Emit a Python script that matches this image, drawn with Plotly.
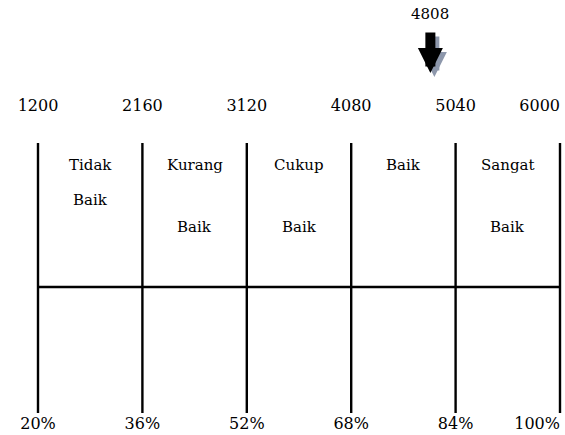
import plotly.graph_objects as go

# Data
score_bounds = [1200, 2160, 3120, 4080, 5040, 6000]
percent_labels = ["20%", "36%", "52%", "68%", "84%", "100%"]
categories = ["Tidak Baik", "Kurang Baik", "Cukup Baik", "Baik", "Sangat Baik"]
obtained_score = 4808

FONT = "DejaVu Serif"
W, H = 565, 435
LEFT_PX, RIGHT_PX = 38, 560
lo, hi = score_bounds[0], score_bounds[-1]
upp = (hi - lo) / (RIGHT_PX - LEFT_PX)
xr = [lo - LEFT_PX * upp, hi + (W - RIGHT_PX) * upp]

fig = go.Figure()

# vertical lines at each boundary
vx, vy = [], []
for v in score_bounds:
    vx += [v, v, None]
    vy += [143, 413, None]
fig.add_trace(go.Scatter(x=vx, y=vy, mode="lines",
                         line=dict(color="black", width=2.4),
                         hoverinfo="skip", showlegend=False))
# horizontal line
fig.add_trace(go.Scatter(x=[score_bounds[0], score_bounds[-1]], y=[287, 287],
                         mode="lines", line=dict(color="black", width=2.4),
                         hoverinfo="skip", showlegend=False))

# top score labels and bottom percent labels
positions = ["middle center"] * (len(score_bounds) - 1) + ["middle left"]
fig.add_trace(go.Scatter(x=score_bounds, y=[107] * len(score_bounds), mode="text",
                         text=[str(v) for v in score_bounds], textposition=positions,
                         textfont=dict(family=FONT, size=16, color="black"),
                         hoverinfo="skip", showlegend=False, cliponaxis=False))
fig.add_trace(go.Scatter(x=score_bounds, y=[425] * len(score_bounds), mode="text",
                         text=percent_labels, textposition=positions,
                         textfont=dict(family=FONT, size=16, color="black"),
                         hoverinfo="skip", showlegend=False, cliponaxis=False))

# category labels
for i, cat in enumerate(categories):
    mid = (score_bounds[i] + score_bounds[i + 1]) / 2
    words = cat.split(" ")
    fig.add_annotation(x=mid, y=165, text=words[0], showarrow=False,
                       font=dict(family=FONT, size=15, color="black"))
    if len(words) > 1:
        y2 = 200 if i == 0 else 227
        fig.add_annotation(x=mid, y=y2, text=words[1], showarrow=False,
                           font=dict(family=FONT, size=15, color="black"))

# obtained score marker: text + block arrow with shadow
fig.add_annotation(x=obtained_score, y=14, text=str(obtained_score), showarrow=False,
                   font=dict(family=FONT, size=15, color="black"))
for color, dx, dy in [("#8d97ab", 4, -4), ("black", 0, 0)]:
    fig.add_annotation(x=obtained_score, y=73, ax=obtained_score, ay=31,
                       axref="x", ayref="y", xref="x", yref="y", text="",
                       showarrow=True, arrowhead=2, arrowsize=0.5, arrowwidth=10,
                       arrowcolor=color, xshift=dx, yshift=dy)

fig.update_layout(
    width=W, height=H,
    margin=dict(l=0, r=0, t=0, b=0),
    paper_bgcolor="white", plot_bgcolor="white",
    xaxis=dict(range=xr, visible=False, fixedrange=True),
    yaxis=dict(range=[H, 0], visible=False, fixedrange=True),
    showlegend=False,
)
fig.write_html("out.html", config={"displayModeBar": False},
               post_script="document.body.style.margin='0px';")
